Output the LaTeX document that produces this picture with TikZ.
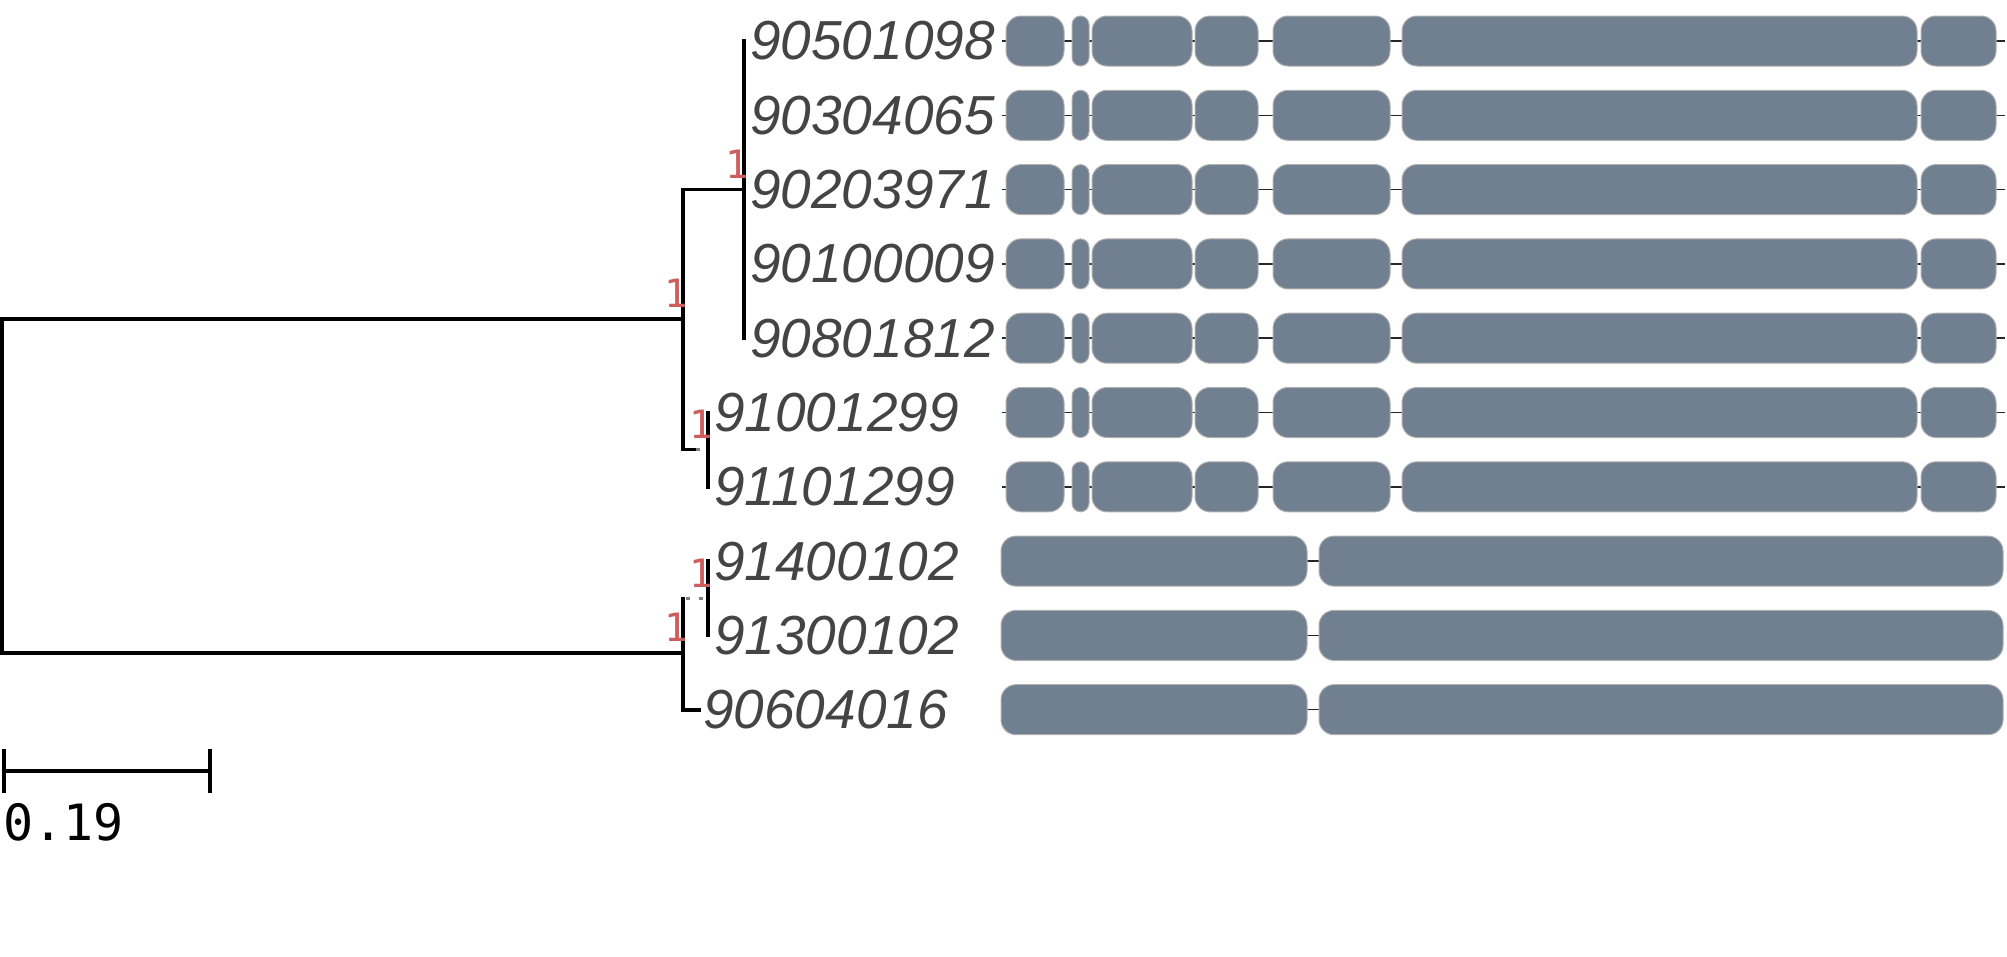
\documentclass[tikz,border=0pt]{standalone}
\usepackage{fontspec}
\usepackage{tikz}
\usetikzlibrary{positioning}
\newfontfamily\leaffont{Liberation Sans}
\newfontfamily\supfont{DejaVu Sans Mono}
\definecolor{exonfill}{RGB}{112,128,144}
\definecolor{exonline}{RGB}{175,175,175}
\definecolor{leafgray}{RGB}{68,68,68}
\definecolor{suppred}{RGB}{205,92,92}
\tikzset{
  branch/.style={line width=3.6pt, line cap=rect},
  extraline/.style={gray, line width=3.4pt, dash pattern=on 4pt off 9pt},
  leaf/.style={anchor=west, inner sep=0pt, text=leafgray, font=\leaffont\itshape\fontsize{55}{60}\selectfont},
  support/.style={anchor=south east, inner sep=0pt, text=suppred, xshift=5pt, yshift=11pt, font=\supfont\fontsize{39}{40}\selectfont},
  scaletext/.style={anchor=north west, inner sep=0pt, font=\supfont\fontsize{50}{52}\selectfont},
  exon/.style={fill=exonfill, draw=exonline, line width=1pt, rounded corners=15pt},
  intron/.style={line width=1.5pt, black!85},
}

\begin{document}
\begin{tikzpicture}[x=1pt,y=-1pt]
        \useasboundingbox (0,0) rectangle (2007,956);

        % leaf names
        \node[leaf] (t1) at (750,41) {90501098};
        \node[leaf] (t2) at (750,115.3) {90304065};
        \node[leaf] (t3) at (750,189.6) {90203971};
        \node[leaf] (t4) at (750,263.9) {90100009};
        \node[leaf] (t5) at (750,338.2) {90801812};
        \node[leaf] (t6) at (714,412.5) {91001299};
        \node[leaf] (t7) at (714,486.8) {91101299};
        \node[leaf] (t8) at (714,561.1) {91400102};
        \node[leaf] (t9) at (714,635.4) {91300102};
        \node[leaf] (t10) at (703,709.7) {90604016};

        % inner nodes of the tree
        \coordinate (root) at (2,486);
        \coordinate (nA) at (683,319);
        \coordinate (nB) at (683,653);
        \coordinate (nC) at (744,189.6);
        \coordinate (nD) at (708,449.6);
        \coordinate (nE) at (708,598.3);

        \draw[branch] (nA) -| (root) |- (nB);
        \draw[branch] (nC) -| (nA);
        \draw[branch] (nA) |- ([xshift=-12pt]nD);
        \draw[extraline] ([xshift=-12pt]nD) -- (nD);
        \draw[branch] (nC |- t1) -- (nC |- t5);
        \draw[branch] (nD |- t6) -- (nD |- t7);
        \draw[branch] (nE |- t8) -- (nE |- t9);
        \draw[branch] (nA |- nE) -- (nB) |- ([xshift=-4pt]t10.west);
        \draw[extraline] ([xshift=3pt]nA |- nE) -- (nE);

        % support values
        \node[support] (sA) at (nA) {1};
        \node[support] (sB) at (nB) {1};
        \node[support] (sC) at (nC) {1};
        \node[support] (sD) at (nD) {1};
        \node[support] (sE) at (nE) {1};

        % gene structures
        \foreach \y in {41,115.3,189.6,263.9,338.2,412.5,486.8} {
            \draw[intron] (1002,\y) -- (2005,\y);
            \foreach \a/\b in {1006/1064,1092/1192,1195/1258,1273/1390,1402/1917,1921/1996}
                \draw[exon] (\a,\y-25) rectangle (\b,\y+25);
            \draw[exon, rounded corners=8.5pt] (1072,\y-25) rectangle (1089,\y+25);
        }
        \foreach \y in {561.1,635.4,709.7} {
            \draw[intron] (1300,\y) -- (1325,\y);
            \draw[exon] (1001,\y-25) rectangle (1307,\y+25);
            \draw[exon] (1319,\y-25) rectangle (2003,\y+25);
        }

        % scale bar
        \coordinate (s0) at (4,770.7);
        \coordinate (s1) at (210,770.7);
        \draw[branch, line cap=butt] (s0) -- (s1);
        \draw[branch, line cap=butt] ([yshift=22pt]s0) -- ([yshift=-22pt]s0);
        \draw[branch, line cap=butt] ([yshift=22pt]s1) -- ([yshift=-22pt]s1);
        \node[scaletext] (sl) at (3.5,803) {0.19};
    \end{tikzpicture}
\end{document}
